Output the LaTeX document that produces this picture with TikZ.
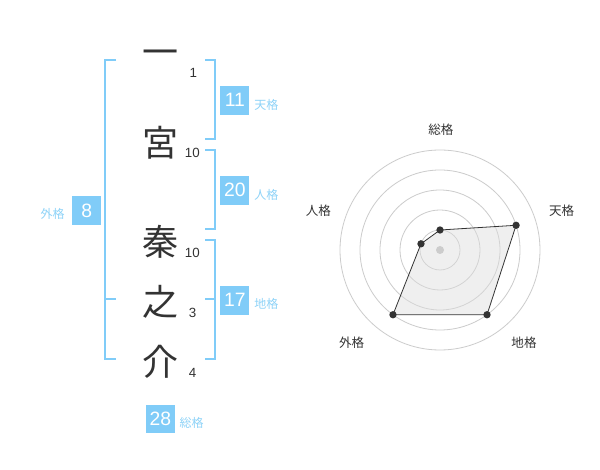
\documentclass[tikz,border=0pt]{standalone}
\usepackage{fontspec}
\setmainfont{Liberation Sans}
\newfontfamily\jp{Noto Sans CJK JP}
\definecolor{kblue}{HTML}{80CCF8}
\definecolor{klabel}{HTML}{8ED3F8}
\definecolor{ink}{HTML}{333333}
\definecolor{ringc}{HTML}{CCCCCC}
\definecolor{polyfill}{HTML}{DDDDDD}
\begin{document}
\begin{tikzpicture}[x=0.75pt,y=-0.75pt,
  kanji/.style={font=\jp\fontsize{27}{27}\selectfont, text=ink, inner sep=0pt},
  strokes/.style={font=\fontsize{10}{10}\selectfont, text=ink, inner sep=0pt},
  numbox/.style={fill=kblue, text=white, minimum size=21.5pt, inner sep=0pt,
                 font=\fontsize{14.5}{14.5}\selectfont},
  gname/.style={font=\jp\fontsize{9}{9}\selectfont, text=klabel, inner sep=0pt},
  bracket/.style={draw=kblue, line width=1.5pt},
  ring/.style={draw=ringc, line width=0.6pt},
  axislabel/.style={font=\jp\fontsize{9.4}{9.4}\selectfont, text=ink, inner sep=0pt},
  dot/.style={circle, fill=ink, minimum size=5.5pt, inner sep=0pt},
]
\useasboundingbox[fill=white] (0,0) rectangle (600,470);

% ---- name characters
\node[kanji] (k1) at (160,58) {一};
\node[kanji] (k2) at (160,142.5) {宮};
\node[kanji] (k3) at (160,242) {秦};
\node[kanji] (k4) at (160,302) {之};
\node[kanji] (k5) at (160,362) {介};

% ---- stroke counts
\node[strokes] (s1) at (193.3,72.7) {1};
\node[strokes] (s2) at (192.3,153.3) {10};
\node[strokes] (s3) at (192.3,252.7) {10};
\node[strokes] (s4) at (192.7,313.3) {3};
\node[strokes] (s5) at (192.7,373.3) {4};

% ---- brackets
\draw[bracket] (116,60) -- (105,60) -- (105,359.3) -- (116,359.3);
\draw[bracket] (105,299.5) -- (116,299.5);
\draw[bracket] (205,60) -- (215,60) -- (215,139.3) -- (205,139.3);
\draw[bracket] (205,150) -- (215,150) -- (215,229.3) -- (205,229.3);
\draw[bracket] (205,240) -- (215,240) -- (215,359.3) -- (205,359.3);
\draw[bracket] (205,299.5) -- (215,299.5);

% ---- boxes and labels
\node[numbox] (ten) at (234.8,100.2) {11};
\node[gname, anchor=west] (tenl) at (254,104.5) {天格};
\node[numbox] (jin) at (234.8,190.2) {20};
\node[gname, anchor=west] (jinl) at (254,194.5) {人格};
\node[numbox] (chi) at (234.8,300.2) {17};
\node[gname, anchor=west] (chil) at (254,304) {地格};
\node[numbox] (gai) at (86.7,210.5) {8};
\node[gname, anchor=east] (gail) at (65,214.2) {外格};
\node[numbox] (sou) at (160.5,419) {28};
\node[gname, anchor=west] (soul) at (179.3,422.5) {総格};

% ---- radar chart
\coordinate (C) at (440,250);
\foreach \r in {20,40,60,80,100} \draw[ring] (C) circle[radius=\r];
\begin{scope}[shift={(440,250)}]
  \coordinate (pS) at (-90:20);
  \coordinate (pT) at (-18:80);
  \coordinate (pC) at (54:80);
  \coordinate (pG) at (126:80);
  \coordinate (pJ) at (198:20);
\end{scope}
\fill[polyfill, fill opacity=0.45] (pS) -- (pT) -- (pC) -- (pG) -- (pJ) -- cycle;
\fill[ringc] (C) circle[radius=4];
\draw[draw=ink, line width=0.6pt] (pS) -- (pT) -- (pC) -- (pG) -- (pJ) -- cycle;
\foreach \p in {pS,pT,pC,pG,pJ} \node[dot] at (\p) {};

\node[axislabel] (aS) at (440.8,130) {総格};
\node[axislabel] (aT) at (561.7,210.5) {天格};
\node[axislabel] (aC) at (524,342.5) {地格};
\node[axislabel] (aG) at (351.7,342.5) {外格};
\node[axislabel] (aJ) at (318.3,210.5) {人格};
\end{tikzpicture}
\end{document}
